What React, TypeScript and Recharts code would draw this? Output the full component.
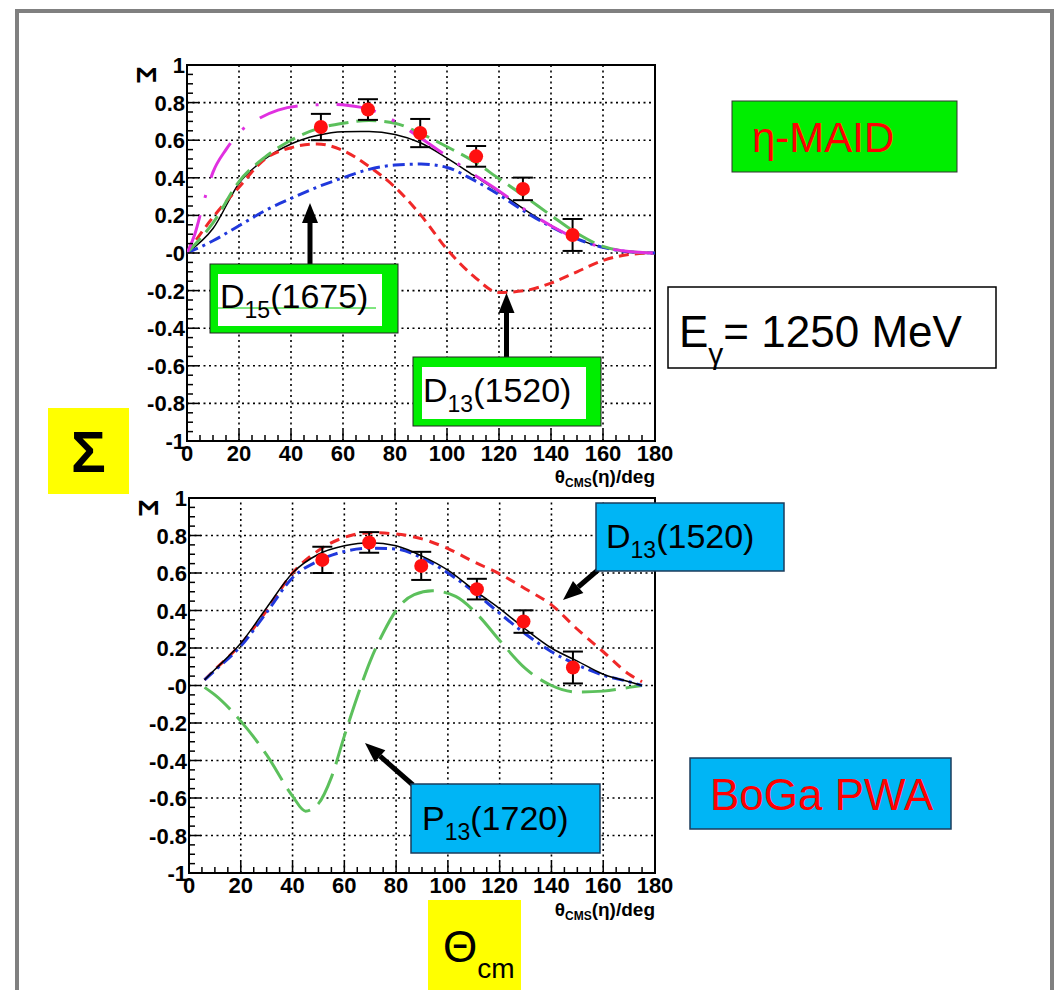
import React from 'react';
import { ComposedChart, Line, Scatter, ErrorBar, XAxis, YAxis, ReferenceLine, ReferenceArea } from 'recharts';

const FONT = '"Liberation Sans", Arial, Helvetica, sans-serif';

// axis ticks
const xMajor = [0, 20, 40, 60, 80, 100, 120, 140, 160, 180];
const yMajor = [-1, -0.8, -0.6, -0.4, -0.2, 0, 0.2, 0.4, 0.6, 0.8, 1];
const xGrid = [20, 40, 60, 80, 100, 120, 140, 160];
const yGrid = [-0.8, -0.6, -0.4, -0.2, 0, 0.2, 0.4, 0.6, 0.8];
const xMinor = Array.from({ length: 37 }, (_, i) => i * 5);
const yMinor = Array.from({ length: 41 }, (_, i) => Math.round(-100 + i * 5) / 100);

// measured beam asymmetry (same in both panels)
const dataAngles = [51.5, 69.6, 89.7, 111.2, 129.2, 148.3];
const dataSigma = [0.67, 0.763, 0.638, 0.514, 0.341, 0.096];
const dataError = [0.07, 0.055, 0.075, 0.055, 0.06, 0.085];

// eta-MAID panel
const maidAngles = [0, 10, 20, 30, 40, 50, 60, 70, 80, 90, 100, 110, 120, 130, 140, 150, 160, 170, 180];
const maidFull = [0, 0.13, 0.37, 0.5, 0.58, 0.625, 0.645, 0.646, 0.63, 0.585, 0.505, 0.415, 0.325, 0.23, 0.145, 0.075, 0.03, 0.007, 0];
const maidNoD13 = [0, 0.19, 0.35, 0.5, 0.56, 0.58, 0.545, 0.46, 0.35, 0.2, 0.02, -0.12, -0.21, -0.2, -0.16, -0.1, -0.04, -0.008, 0];
const maidNoD15 = [0, 0.065, 0.145, 0.225, 0.29, 0.35, 0.4, 0.445, 0.468, 0.473, 0.455, 0.39, 0.31, 0.22, 0.14, 0.075, 0.03, 0.007, 0];
const maidGreen = [0, 0.16, 0.38, 0.51, 0.6, 0.66, 0.69, 0.705, 0.69, 0.635, 0.565, 0.49, 0.395, 0.3, 0.2, 0.105, 0.035, 0.007, 0];
const magentaAngles = [0, 3, 6, 10, 15, 20, 27, 35, 45, 55, 62, 70, 80, 90, 100, 110, 120, 130, 140, 150, 160, 170, 180];
const maidMagenta = [0, 0.1, 0.25, 0.43, 0.55, 0.64, 0.71, 0.76, 0.785, 0.79, 0.785, 0.765, 0.7, 0.61, 0.515, 0.42, 0.33, 0.23, 0.145, 0.075, 0.03, 0.008, 0];

// BoGa PWA panel
const bogaAngles = [6, 10, 20, 30, 40, 50, 60, 70, 80, 90, 100, 110, 120, 130, 140, 150, 160, 170, 175];
const bogaFull = [0.03, 0.085, 0.225, 0.415, 0.6, 0.7, 0.745, 0.762, 0.745, 0.69, 0.615, 0.51, 0.41, 0.3, 0.2, 0.13, 0.06, 0.02, 0];
const bogaDash = [0.03, 0.08, 0.21, 0.39, 0.575, 0.665, 0.715, 0.732, 0.728, 0.68, 0.6, 0.5, 0.385, 0.275, 0.18, 0.11, 0.055, 0.02, 0];
const bogaNoD13 = [0.03, 0.085, 0.22, 0.4, 0.6, 0.72, 0.79, 0.815, 0.808, 0.782, 0.73, 0.66, 0.595, 0.515, 0.43, 0.3, 0.18, 0.06, 0.02];
const p13Angles = [6, 10, 20, 30, 40, 45, 50, 55, 60, 65, 70, 75, 80, 87, 94, 103, 112, 120, 130, 140, 150, 160, 170, 175];
const bogaNoP13 = [-0.01, -0.05, -0.19, -0.37, -0.59, -0.67, -0.63, -0.49, -0.27, -0.06, 0.13, 0.28, 0.4, 0.485, 0.505, 0.475, 0.37, 0.24, 0.09, 0.0, -0.035, -0.03, -0.01, 0];

const pts = (xs: number[], ys: number[]) => xs.map((x, i) => ({ x, y: ys[i] }));
const measured = dataAngles.map((x, i) => ({ x, y: dataSigma[i], err: dataError[i] }));

const RED = '#f02828';
const BLUE = '#2038dc';
const GREEN = '#5cc05c';
const MAGENTA = '#e030e0';

const topCurves = [
  { key: 'full', data: pts(maidAngles, maidFull), stroke: '#000', width: 1.5, dash: undefined },
  { key: 'noD13', data: pts(maidAngles, maidNoD13), stroke: RED, width: 3, dash: '10 6' },
  { key: 'noD15', data: pts(maidAngles, maidNoD15), stroke: BLUE, width: 3, dash: '12 5 3 5' },
  { key: 'green', data: pts(maidAngles, maidGreen), stroke: GREEN, width: 3, dash: '20 8' },
  { key: 'magenta', data: pts(magentaAngles, maidMagenta), stroke: MAGENTA, width: 3, dash: '40 18 3 18' },
];

const bottomCurves = [
  { key: 'noP13', data: pts(p13Angles, bogaNoP13), stroke: GREEN, width: 3, dash: '34 10' },
  { key: 'noD13', data: pts(bogaAngles, bogaNoD13), stroke: RED, width: 3, dash: '10 7' },
  { key: 'dash', data: pts(bogaAngles, bogaDash), stroke: BLUE, width: 3, dash: '12 5 3 5' },
  { key: 'full', data: pts(bogaAngles, bogaFull), stroke: '#000', width: 1.5, dash: undefined },
];

const isMajor = (v: number, list: number[]) => list.some(m => Math.abs(m - v) < 1e-6);
const fmtY = (v: number) => (v === 0 ? '-0' : String(v));

const XTick = ({ x, y, payload }: any) => {
  const major = isMajor(payload.value, xMajor);
  return (
    <g>
      <line x1={x} x2={x} y1={y} y2={y - (major ? 11 : 6)} stroke="#000" strokeWidth={1.5} />
      {major && (
        <text x={x} y={y + 20} textAnchor="middle" fontFamily={FONT} fontWeight="bold" fontSize={22} fill="#000">
          {payload.value}
        </text>
      )}
    </g>
  );
};

const YTick = ({ x, y, payload }: any) => {
  const major = isMajor(payload.value, yMajor);
  return (
    <g>
      <line x1={x} x2={x + (major ? 12 : 6)} y1={y} y2={y} stroke="#000" strokeWidth={1.5} />
      {major && (
        <text x={x - 2} y={y + 8} textAnchor="end" fontFamily={FONT} fontWeight="bold" fontSize={22} fill="#000">
          {fmtY(payload.value)}
        </text>
      )}
    </g>
  );
};

const Dot = ({ cx, cy }: any) => <circle cx={cx} cy={cy} r={7} fill="#ff1010" />;

function Panel({ top, height, left, curves }: { top: number; height: number; left: number; curves: typeof topCurves }) {
  return (
    <div style={{ position: 'absolute', left: 100, top }}>
      <ComposedChart width={580} height={height} margin={{ top: 35, right: 25, left, bottom: 0 }}>
        <XAxis dataKey="x" type="number" domain={[0, 180]} ticks={xMinor} interval={0} tick={(p: any) => <XTick {...p} />}
          tickLine={false} axisLine={false} tickSize={0} tickMargin={0} height={40} allowDataOverflow />
        <YAxis type="number" domain={[-1, 1]} ticks={yMinor} interval={0} tick={(p: any) => <YTick {...p} />}
          tickLine={false} axisLine={false} tickSize={0} tickMargin={0} width={87} allowDataOverflow />
        {xGrid.map(v => (
          <ReferenceLine key={'gx' + v} x={v} stroke="#000" strokeWidth={1.6} strokeDasharray="2 3.5" />
        ))}
        {yGrid.map(v => (
          <ReferenceLine key={'gy' + v} y={v} stroke="#000" strokeWidth={1.6} strokeDasharray="2 3.5" />
        ))}
        {curves.map(c => (
          <Line key={c.key} data={c.data} dataKey="y" type="monotone" stroke={c.stroke} strokeWidth={c.width}
            strokeDasharray={c.dash} dot={false} activeDot={false} isAnimationActive={false} />
        ))}
        <Scatter data={measured} dataKey="y" shape={<Dot />} isAnimationActive={false}>
          <ErrorBar dataKey="err" direction="y" width={10} stroke="#000" strokeWidth={2} />
        </Scatter>
        <ReferenceArea x1={0} x2={180} y1={-1} y2={1} fill="none" fillOpacity={0} stroke="#000" strokeWidth={2} />
      </ComposedChart>
    </div>
  );
}

function Arrow({ x1, y1, x2, y2 }: { x1: number; y1: number; x2: number; y2: number }) {
  const dx = x2 - x1;
  const dy = y2 - y1;
  const len = Math.hypot(dx, dy);
  const ux = dx / len;
  const uy = dy / len;
  const hl = 20;
  const hw = 8;
  const bx = x2 - ux * hl;
  const by = y2 - uy * hl;
  return (
    <g>
      <line x1={x1} y1={y1} x2={bx} y2={by} stroke="#000" strokeWidth={5} />
      <polygon points={`${x2},${y2} ${bx - uy * hw},${by + ux * hw} ${bx + uy * hw},${by - ux * hw}`} fill="#000" />
    </g>
  );
}

const Label = ({ x, y, main, sub, rest }: { x: number; y: number; main: string; sub: string; rest: string }) => (
  <text x={x} y={y} fontFamily={FONT} fontSize={34} fill="#000">
    {main}
    <tspan fontSize={23} dy={10}>{sub}</tspan>
    <tspan fontSize={34} dy={-10}>{rest}</tspan>
  </text>
);

const AxisTitle = ({ x, y }: { x: number; y: number }) => (
  <text x={x} y={y} textAnchor="end" fontFamily={FONT} fontWeight="bold" fontSize={19} fill="#000">
    θ<tspan fontSize={12} dy={4}>CMS</tspan>
    <tspan dy={-4}>(η)/deg</tspan>
  </text>
);

export default function App() {
  const LIME = '#00ee00';
  const SKY = '#00b5f5';
  return (
    <div style={{ position: 'absolute', left: 0, top: 0, width: 1056, height: 990, background: '#fff', overflow: 'hidden' }}>
      <div style={{ position: 'absolute', left: 15, top: 9, width: 1031, height: 1000, border: '4px solid #808080' }} />
      <Panel top={30} height={451} left={0} curves={topCurves} />
      <Panel top={463} height={450} left={2} curves={bottomCurves} />
      <svg width={1056} height={990} style={{ position: 'absolute', left: 0, top: 0, pointerEvents: 'none' }}>
        {/* axis titles */}
        <text x={0} y={0} transform="translate(137 75) rotate(90)" textAnchor="middle" fontFamily={FONT} fontWeight="bold" fontSize={28}>Σ</text>
        <text x={0} y={0} transform="translate(139 508) rotate(90)" textAnchor="middle" fontFamily={FONT} fontWeight="bold" fontSize={28}>Σ</text>
        <AxisTitle x={655} y={483} />
        <AxisTitle x={655} y={916} />

        {/* Sigma / Theta boxes */}
        <rect x={48} y={408} width={81} height={86} fill="#ffff00" />
        <text x={88.5} y={472} textAnchor="middle" fontFamily={FONT} fontWeight="bold" fontSize={58}>Σ</text>
        <rect x={428} y={900} width={93} height={95} fill="#ffff00" />
        <text x={443} y={962} fontFamily={FONT} fontSize={44}>
          Θ<tspan fontSize={28} dy={16}>cm</tspan>
        </text>

        {/* eta-MAID panel annotations */}
        <rect x={732} y={101} width={225} height={71} fill={LIME} stroke="#333" strokeWidth={1} />
        <text x={752} y={152} fontFamily={FONT} fontSize={42} fill="#ff0000">η-MAID</text>
        <rect x={668} y={287} width={328} height={81} fill="#fff" stroke="#000" strokeWidth={1.5} />
        <text x={679} y={347} fontFamily={FONT} fontSize={44} fill="#000">
          E<tspan fontSize={30} dy={17}>γ</tspan>
          <tspan dy={-17}>= 1250 MeV</tspan>
        </text>

        <Arrow x1={310} y1={264} x2={310} y2={203} />
        <rect x={210} y={264} width={188} height={69} fill={LIME} stroke="#222" strokeWidth={1} />
        <rect x={218} y={274} width={164} height={52} fill="#fff" />
        <line x1={218} y1={308} x2={376} y2={308} stroke="#00cc00" strokeWidth={1} />
        <Label x={220} y={308} main="D" sub="15" rest="(1675)" />

        <Arrow x1={506.5} y1={357} x2={506.5} y2={293} />
        <rect x={413} y={357} width={188} height={69} fill={LIME} stroke="#222" strokeWidth={1} />
        <rect x={422} y={367} width={164} height={52} fill="#fff" />
        <Label x={423} y={402} main="D" sub="13" rest="(1520)" />

        {/* BoGa panel annotations */}
        <Arrow x1={598} y1={570} x2={563} y2={600} />
        <rect x={596} y={503} width={188} height={68} fill={SKY} stroke="#1b3c5c" strokeWidth={1.5} />
        <Label x={606} y={548} main="D" sub="13" rest="(1520)" />

        <Arrow x1={413} y1={785} x2={365} y2={743} />
        <rect x={411} y={784} width={189} height={69} fill={SKY} stroke="#1b3c5c" strokeWidth={1.5} />
        <Label x={422} y={830} main="P" sub="13" rest="(1720)" />

        <rect x={690} y={758} width={261} height={71} fill={SKY} stroke="#1b3c5c" strokeWidth={1.5} />
        <text x={710} y={810} fontFamily={FONT} fontSize={44} fill="#ff0000">BoGa PWA</text>
      </svg>
    </div>
  );
}
